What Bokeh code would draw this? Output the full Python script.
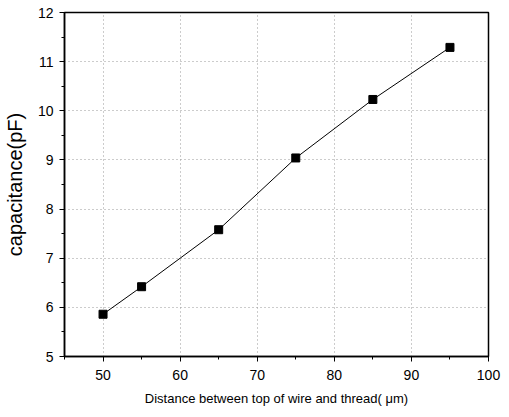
from bokeh.plotting import figure
from bokeh.models import Range1d, FixedTicker
from bokeh.embed import file_html
from bokeh.resources import INLINE

distance = [50, 55, 65, 75, 85, 95]
capacitance = [5.86, 6.42, 7.58, 9.04, 10.23, 11.29]
x_ticks = [50, 60, 70, 80, 90, 100]
y_ticks = [5, 6, 7, 8, 9, 10, 11, 12]

p = figure(width=509, height=417, output_backend="svg", toolbar_location=None,
           x_range=Range1d(45, 100), y_range=Range1d(5, 12),
           min_border_left=64, min_border_top=12, min_border_right=21, min_border_bottom=61)
p.outline_line_color = "black"
p.outline_line_width = 1.5
p.background_fill_color = "white"
p.border_fill_color = "white"

p.line(distance, capacitance, line_color="black", line_width=1)
p.scatter(distance, capacitance, marker="square", size=8, fill_color="black", line_color="black")

font = "Liberation Sans"
p.xaxis.ticker = FixedTicker(ticks=x_ticks, minor_ticks=[45, 55, 65, 75, 85, 95])
p.yaxis.ticker = FixedTicker(ticks=y_ticks, minor_ticks=[5.5, 6.5, 7.5, 8.5, 9.5, 10.5, 11.5])
for ax in (p.xaxis[0], p.yaxis[0]):
    ax.axis_line_color = "black"
    ax.axis_line_width = 1.5
    ax.major_tick_line_color = "black"
    ax.minor_tick_line_color = "black"
    ax.major_tick_out = 5
    ax.major_tick_in = 0
    ax.minor_tick_out = 3
    ax.minor_tick_in = 0
    ax.major_label_text_font = font
    ax.major_label_text_font_size = "14px"
    ax.major_label_text_color = "black"
    ax.axis_label_text_font = font
    ax.axis_label_text_font_style = "normal"
    ax.axis_label_text_color = "black"

p.xaxis.major_label_standoff = 8
p.yaxis.major_label_standoff = 6
p.xaxis.axis_label = "Distance between top of wire and thread( μm)"
p.xaxis.axis_label_text_font_size = "13px"
p.xaxis.axis_label_standoff = 8
p.yaxis.axis_label = "capacitance(pF)"
p.yaxis.axis_label_text_font_size = "20px"
p.yaxis.axis_label_standoff = 9

p.xgrid.ticker = FixedTicker(ticks=[50, 60, 70, 80, 90])
p.ygrid.ticker = FixedTicker(ticks=[6, 7, 8, 9, 10, 11])
p.grid.grid_line_color = "#999999"
p.grid.grid_line_dash = "1 3"
p.grid.grid_line_width = 1

open("out.html", "w").write(file_html(p, INLINE))
